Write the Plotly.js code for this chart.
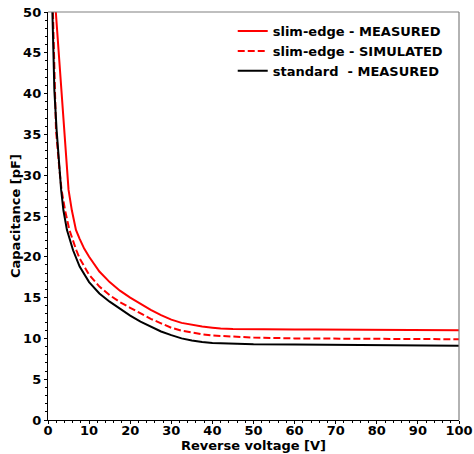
<!DOCTYPE html>
<html>
<head>
<meta charset="utf-8">
<script src="https://cdn.plot.ly/plotly-3.0.1.min.js"></script>
<style>html,body{margin:0;padding:0;background:#fff;}#chart{width:474px;height:454px;}</style>
</head>
<body>
<div id="chart"></div>
<script>
// Slim-edge measured
const vSlimMeas = [1.9, 2.6, 3.3, 4.0, 4.6, 5.0, 5.8, 6.8, 7.7, 8.8, 10, 12.5, 15, 17.5, 20, 22.5, 25, 27.5, 30, 32.5, 35, 37.5, 40, 42, 45, 48, 50, 55, 60, 65, 70, 72, 74, 76, 78, 80, 82, 84, 86, 88, 90, 92, 94, 96, 98, 100];
const cSlimMeas = [50, 45, 40.4, 35.5, 30.6, 28.2, 25.7, 23.3, 22.2, 21.0, 20.0, 18.2, 16.9, 15.85, 15.0, 14.2, 13.5, 12.85, 12.3, 11.9, 11.65, 11.45, 11.3, 11.2, 11.15, 11.12, 11.1, 11.1, 11.08, 11.08, 11.07, 11.02, 11.08, 11.03, 11.07, 11.02, 11.06, 11.0, 11.05, 11.03, 11.0, 11.05, 10.98, 11.04, 11.0, 11.0];
// Slim-edge simulated
const vSlimSim = [1.2, 1.7, 1.95, 2.8, 3.3, 4.15, 5.2, 6.9, 7.7, 10, 12.5, 15, 17.5, 20, 22.5, 25, 27.5, 30, 32.5, 35, 37.5, 40, 45, 50, 60, 70, 80, 90, 100];
const cSlimSim = [50, 40.4, 35.5, 30.6, 28.2, 25.7, 23.3, 20.8, 19.8, 17.8, 16.35, 15.3, 14.45, 13.75, 13.05, 12.4, 11.85, 11.3, 10.95, 10.7, 10.5, 10.35, 10.2, 10.1, 10.0, 9.97, 9.95, 9.92, 9.9];
// Standard measured
const vStdMeas = [1.07, 1.55, 2.1, 2.8, 3.2, 3.75, 4.6, 6.1, 7.7, 10, 12.5, 15, 17.5, 20, 22.5, 25, 27.5, 30, 32.5, 35, 37.5, 40, 45, 50, 60, 70, 80, 90, 100];
const cStdMeas = [50, 40.4, 35.5, 30.6, 28.2, 25.7, 23.3, 20.8, 18.8, 16.9, 15.5, 14.5, 13.6, 12.8, 12.05, 11.4, 10.85, 10.4, 10.0, 9.75, 9.55, 9.45, 9.33, 9.27, 9.24, 9.2, 9.18, 9.15, 9.1];

const labels = ['slim-edge - MEASURED', 'slim-edge - SIMULATED', 'standard  - MEASURED'];
const fontFam = 'DejaVu Sans, sans-serif';

const traces = [
  {x: vSlimMeas, y: cSlimMeas, name: labels[0], mode: 'lines', line: {color: '#ff0000', width: 2}},
  {x: vSlimSim, y: cSlimSim, name: labels[1], mode: 'lines', line: {color: '#ff0000', width: 2, dash: '7px,3px'}},
  {x: vStdMeas, y: cStdMeas, name: labels[2], mode: 'lines', line: {color: '#000000', width: 2}}
];

const layout = {
  width: 474, height: 454,
  margin: {l: 48, r: 15, t: 12, b: 34},
  paper_bgcolor: '#fff', plot_bgcolor: '#fff',
  font: {family: fontFam, size: 13, color: '#000', weight: 'bold'},
  showlegend: true,
  legend: {x: 0.975, xanchor: 'right', y: 0.99, yanchor: 'top', bgcolor: 'rgba(0,0,0,0)',
           font: {family: fontFam, size: 13, weight: 'bold'}, tracegroupgap: 0},
  xaxis: {range: [0, 100], dtick: 10, showgrid: false, zeroline: false,
          showline: true, linecolor: '#000', linewidth: 1.2,
          ticks: 'outside', ticklen: 3, tickcolor: '#000', ticklabelstandoff: -5,
          minor: {dtick: 2, ticks: 'outside', ticklen: 2, tickcolor: '#000'},
          tickfont: {family: fontFam, size: 13, weight: 'bold'}},
  yaxis: {range: [0, 50], dtick: 5, showgrid: false, zeroline: false,
          showline: true, linecolor: '#000', linewidth: 1.2,
          ticks: 'outside', ticklen: 3, tickcolor: '#000',
          minor: {dtick: 1, ticks: 'outside', ticklen: 2, tickcolor: '#000'},
          tickfont: {family: fontFam, size: 13, weight: 'bold'}},
  annotations: [
    {text: 'Reverse voltage [V]', xref: 'paper', yref: 'paper', x: 0.5, y: 0, xanchor: 'center', yanchor: 'top',
     yshift: -16, showarrow: false, font: {family: fontFam, size: 13, weight: 'bold', color: '#000'}},
    {text: 'Capacitance [pF]', xref: 'paper', yref: 'paper', x: 0, y: 0.5, xanchor: 'center', yanchor: 'middle',
     xshift: -33, textangle: -90, showarrow: false, font: {family: fontFam, size: 13, weight: 'bold', color: '#000'}}
  ],
  shapes: [
    {type: 'line', xref: 'paper', yref: 'paper', x0: 0, x1: 1, y0: 1, y1: 1, line: {color: '#808080', width: 1.2}},
    {type: 'line', xref: 'paper', yref: 'paper', x0: 1, x1: 1, y0: 0, y1: 1, line: {color: '#808080', width: 1.2}}
  ]
};

Plotly.newPlot('chart', traces, layout, {displayModeBar: false, staticPlot: true});
</script>
</body>
</html>
